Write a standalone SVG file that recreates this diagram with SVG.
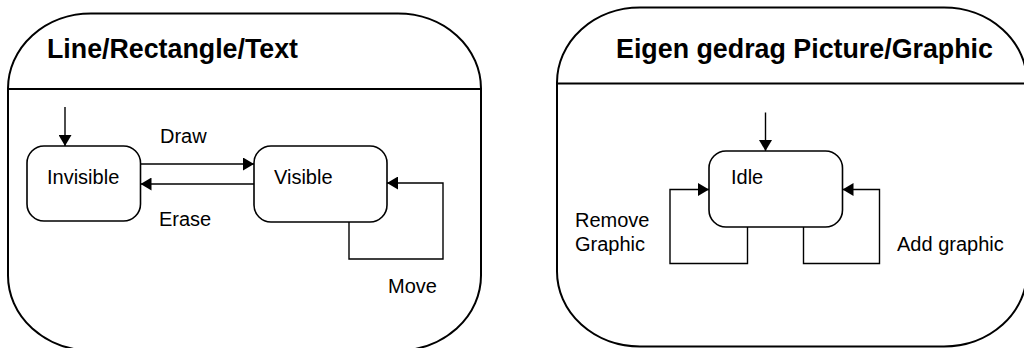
<svg xmlns="http://www.w3.org/2000/svg" width="1024" height="348" viewBox="0 0 1024 348">
  <style>
    .frame { fill: #ffffff; stroke: #000000; stroke-width: 2; }
    .divider { stroke: #000000; stroke-width: 2; fill: none; }
    .state { fill: #ffffff; stroke: #000000; stroke-width: 1.6; }
    .edge { fill: none; stroke: #000000; stroke-width: 1.4; marker-end: url(#head); }
    .title { font-family: "Liberation Sans", Arial, sans-serif; font-weight: bold; font-size: 27px; fill: #000000; }
    .label { font-family: "Liberation Sans", Arial, sans-serif; font-size: 20px; fill: #000000; }
  </style>
  <defs>
    <marker id="head" viewBox="0 0 11 13" refX="11" refY="6.5" markerWidth="11" markerHeight="13" markerUnits="userSpaceOnUse" orient="auto">
      <path d="M0,0 L11,6.5 L0,13 Z" fill="#000000"/>
    </marker>
  </defs>

  <rect width="1024" height="348" fill="#ffffff"/>

  <!-- Left composite state -->
  <g id="panel-line-rectangle-text">
    <rect class="frame" x="8" y="13.5" width="473" height="337" rx="83" ry="75"/>
    <line class="divider" x1="8" y1="89" x2="481" y2="89"/>
    <text class="title" x="47" y="58" textLength="251" lengthAdjust="spacingAndGlyphs">Line/Rectangle/Text</text>
  </g>

  <!-- Right composite state -->
  <g id="panel-picture-graphic">
    <rect class="frame" x="557" y="7.5" width="470" height="339" rx="83" ry="75"/>
    <line class="divider" x1="557" y1="83.5" x2="1027" y2="83.5"/>
    <text class="title" x="616" y="58" textLength="377" lengthAdjust="spacingAndGlyphs">Eigen gedrag Picture/Graphic</text>
  </g>

  <g id="state-invisible">
    <rect class="state" x="27" y="146" width="113.5" height="75" rx="17" ry="17"/>
    <text class="label" x="47" y="184">Invisible</text>
  </g>

  <g id="state-visible">
    <rect class="state" x="254" y="146" width="133" height="76" rx="17" ry="17"/>
    <text class="label" x="274" y="184">Visible</text>
  </g>

  <g id="state-idle">
    <rect class="state" x="709" y="151" width="133.5" height="76" rx="17" ry="17"/>
    <text class="label" x="731" y="184">Idle</text>
  </g>

  <!-- Transitions -->
  <g id="connectors">
    <line class="edge" x1="65" y1="107" x2="65" y2="146"/>
    <line class="edge" x1="140.5" y1="164" x2="254" y2="164"/>
    <line class="edge" x1="254" y1="184" x2="140.5" y2="184"/>
    <polyline class="edge" points="349,222 349,259 443,259 443,183 387,183"/>

    <line class="edge" x1="765.5" y1="112.5" x2="765.5" y2="151"/>
    <polyline class="edge" points="747.5,227 747.5,263.5 670,263.5 670,189.5 709,189.5"/>
    <polyline class="edge" points="803.5,227 803.5,263.5 879.5,263.5 879.5,189.5 842.5,189.5"/>
  </g>

  <!-- Transition labels -->
  <g id="labels">
    <text class="label" x="160" y="143">Draw</text>
    <text class="label" x="159" y="226">Erase</text>
    <text class="label" x="388" y="293">Move</text>
    <text class="label" x="575" y="227">Remove</text>
    <text class="label" x="575" y="251">Graphic</text>
    <text class="label" x="897" y="251">Add graphic</text>
  </g>
</svg>
